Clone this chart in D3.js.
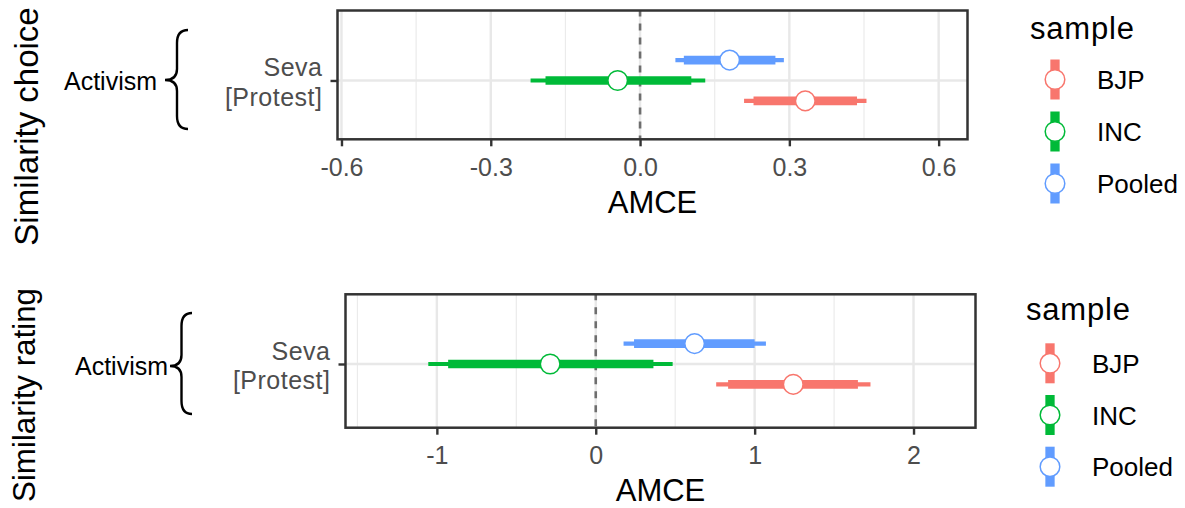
<!DOCTYPE html>
<html><head><meta charset="utf-8">
<script src="https://cdn.jsdelivr.net/npm/d3@7"></script>
<style>
body{margin:0;background:#fff}
svg{display:block}
text{font-family:"Liberation Sans",Arial,sans-serif}
</style>
</head><body>
<svg id="chart" width="1185" height="508"></svg>
<script>
// ---------------- data ----------------
const samples = ["BJP", "INC", "Pooled"];
const sampleColors = ["#F8766D", "#00BA38", "#619CFF"];
const attributeGroup = "Activism";
const levelLabel = ["Seva", "[Protest]"];
const outcomes = ["Similarity choice", "Similarity rating"];
const xTitle = "AMCE";
const legendTitle = "sample";

// Similarity choice (order: BJP, INC, Pooled)
const choiceEst  = [0.332, -0.045, 0.180];
const choiceLo95 = [0.209, -0.220, 0.071];
const choiceHi95 = [0.455,  0.131, 0.289];
const choiceLo90 = [0.228, -0.190, 0.088];
const choiceHi90 = [0.436,  0.103, 0.272];
const choiceTicks = [-0.6, -0.3, 0, 0.3, 0.6];
const choiceTickLabels = ["-0.6", "-0.3", "0.0", "0.3", "0.6"];
const choiceMinor = [-0.45, -0.15, 0.15, 0.45];

// Similarity rating
const ratingEst  = [1.243, -0.287, 0.622];
const ratingLo95 = [0.758, -1.054, 0.175];
const ratingHi95 = [1.729,  0.484, 1.071];
const ratingLo90 = [0.833, -0.929, 0.241];
const ratingHi90 = [1.650,  0.363, 1.000];
const ratingTicks = [-1, 0, 1, 2];
const ratingTickLabels = ["-1", "0", "1", "2"];
const ratingMinor = [-1.5, -0.5, 0.5, 1.5];

// ---------------- layout ----------------
const panels = [
  { outcome: outcomes[0], est: choiceEst, lo95: choiceLo95, hi95: choiceHi95, lo90: choiceLo90, hi90: choiceHi90,
    ticks: choiceTicks, tickLabels: choiceTickLabels, minor: choiceMinor,
    xDomain: [-0.608, 0.658], yDomain: [0.135, 2.029],
    left: 337.5, right: 967.5, top: 10.5, bottom: 139.3,
    titleX: 38, titleY: 126.5, titleSize: 33,
    grpX: 64, grpY: 90, brace: {xEnd: 188, xVert: 177, xTip: 165, yTop: 30, yTip: 80, yBot: 129},
    leg: {titleX: 1030, titleY: 39, keyX: 1055, y0: 79.5, dy: 52, labX: 1097} },
  { outcome: outcomes[1], est: ratingEst, lo95: ratingLo95, hi95: ratingHi95, lo90: ratingLo90, hi90: ratingHi90,
    ticks: ratingTicks, tickLabels: ratingTickLabels, minor: ratingMinor,
    xDomain: [-1.575, 2.39], yDomain: [0.063, 2.025],
    left: 345.5, right: 975.5, top: 294.3, bottom: 427.7,
    titleX: 35, titleY: 395, titleSize: 31.3,
    grpX: 75, grpY: 375, brace: {xEnd: 192, xVert: 181.5, xTip: 170, yTop: 313, yTip: 366, yBot: 414},
    leg: {titleX: 1026, titleY: 320, keyX: 1050, y0: 363.3, dy: 51.7, labX: 1092} }
];

const dodge = [-0.3, 0, 0.3];
const svg = d3.select("#chart");

panels.forEach(p => {
  const x = d3.scaleLinear().domain(p.xDomain).range([p.left, p.right]);
  const y = d3.scaleLinear().domain(p.yDomain).range([p.bottom, p.top]);
  const g = svg.append("g");

  // grid
  g.selectAll(".minor").data(p.minor).join("line")
    .attr("x1", d => x(d)).attr("x2", d => x(d))
    .attr("y1", p.top).attr("y2", p.bottom)
    .attr("stroke", "#EBEBEB").attr("stroke-width", 1.2);
  g.selectAll(".major").data(p.ticks).join("line")
    .attr("x1", d => x(d)).attr("x2", d => x(d))
    .attr("y1", p.top).attr("y2", p.bottom)
    .attr("stroke", "#E8E8E8").attr("stroke-width", 2.4);
  g.append("line")
    .attr("x1", p.left).attr("x2", p.right)
    .attr("y1", y(1)).attr("y2", y(1))
    .attr("stroke", "#E8E8E8").attr("stroke-width", 2.4);

  // zero line
  g.append("line")
    .attr("x1", x(0)).attr("x2", x(0))
    .attr("y1", p.top).attr("y2", p.bottom)
    .attr("stroke", "#6E6E6E").attr("stroke-width", 2.6)
    .attr("stroke-dasharray", "7,7").attr("stroke-dashoffset", 1);

  const idx = samples.map((s, i) => i);
  // 95% thin
  g.selectAll(".thin").data(idx).join("line")
    .attr("x1", i => x(p.lo95[i])).attr("x2", i => x(p.hi95[i]))
    .attr("y1", i => y(1 + dodge[i])).attr("y2", i => y(1 + dodge[i]))
    .attr("stroke", i => sampleColors[i]).attr("stroke-width", 4.2);
  // 90% thick
  g.selectAll(".thick").data(idx).join("line")
    .attr("x1", i => x(p.lo90[i])).attr("x2", i => x(p.hi90[i]))
    .attr("y1", i => y(1 + dodge[i])).attr("y2", i => y(1 + dodge[i]))
    .attr("stroke", i => sampleColors[i]).attr("stroke-width", 8.6);
  // points
  g.selectAll(".pt").data(idx).join("circle")
    .attr("cx", i => x(p.est[i])).attr("cy", i => y(1 + dodge[i]))
    .attr("r", 9.8).attr("fill", "#fff")
    .attr("stroke", i => sampleColors[i]).attr("stroke-width", 1.5);

  // border
  g.append("rect")
    .attr("x", p.left).attr("y", p.top)
    .attr("width", p.right - p.left).attr("height", p.bottom - p.top)
    .attr("fill", "none").attr("stroke", "#333333").attr("stroke-width", 2.5);

  // x axis
  const ax = g.append("g").attr("transform", `translate(0,${p.bottom})`)
    .call(d3.axisBottom(x).tickValues(p.ticks).tickSize(7)
      .tickFormat((d, i) => p.tickLabels[i]));
  ax.select(".domain").remove();
  ax.selectAll(".tick line").attr("stroke", "#333333").attr("stroke-width", 2.4);
  ax.selectAll(".tick text")
    .attr("y", 36.5).attr("dy", null)
    .attr("fill", "#4D4D4D").style("font-size", "25px")
    .style("font-family", '"Liberation Sans",Arial,sans-serif');

  // y axis
  const ay = g.append("g").attr("transform", `translate(${p.left},0)`)
    .call(d3.axisLeft(y).tickValues([1]).tickSize(7).tickFormat(""));
  ay.select(".domain").remove();
  ay.selectAll(".tick line").attr("stroke", "#333333").attr("stroke-width", 2.4);
  const yl = g.append("text")
    .attr("text-anchor", "end").attr("fill", "#4D4D4D")
    .style("font-size", "25px").style("letter-spacing", "0.5px");
  yl.append("tspan").attr("x", p.left - 15).attr("y", y(1) - 4).text(levelLabel[0]);
  yl.append("tspan").attr("x", p.left - 15).attr("y", y(1) + 25.5).text(levelLabel[1]);

  // x title
  g.append("text").attr("x", (p.left + p.right) / 2).attr("y", p.bottom + 73.5)
    .attr("text-anchor", "middle").attr("fill", "#000")
    .style("font-size", "31px").text(xTitle);

  // outcome title (rotated)
  g.append("text").attr("transform", `translate(${p.titleX},${p.titleY}) rotate(-90)`)
    .attr("text-anchor", "middle").attr("fill", "#000")
    .style("font-size", p.titleSize + "px").text(p.outcome);

  // group label + brace
  g.append("text").attr("x", p.grpX).attr("y", p.grpY).attr("fill", "#000")
    .style("font-size", "25px").text(attributeGroup);
  const b = p.brace;
  g.append("path")
    .attr("d", `M${b.xEnd},${b.yTop} Q${b.xVert},${b.yTop} ${b.xVert},${b.yTop + 13}
                L${b.xVert},${b.yTip - 11} Q${b.xVert},${b.yTip} ${b.xTip},${b.yTip}
                Q${b.xVert},${b.yTip} ${b.xVert},${b.yTip + 11}
                L${b.xVert},${b.yBot - 13} Q${b.xVert},${b.yBot} ${b.xEnd},${b.yBot}`)
    .attr("fill", "none").attr("stroke", "#000").attr("stroke-width", 2.4);

  // legend
  const L = p.leg;
  g.append("text").attr("x", L.titleX).attr("y", L.titleY).attr("fill", "#000")
    .style("font-size", "31px").style("letter-spacing", "0.8px").text(legendTitle);
  const keys = g.selectAll(".key").data(idx).join("g")
    .attr("transform", i => `translate(${L.keyX},${L.y0 + i * L.dy})`);
  keys.append("line").attr("x1", 0).attr("x2", 0).attr("y1", -20).attr("y2", 20)
    .attr("stroke", i => sampleColors[i]).attr("stroke-width", 9.3);
  keys.append("circle").attr("r", 9.8).attr("fill", "#fff")
    .attr("stroke", i => sampleColors[i]).attr("stroke-width", 1.5);
  keys.append("text").attr("x", L.labX - L.keyX).attr("y", 9.5).attr("fill", "#000")
    .style("font-size", "26px").text(i => samples[i]);
});
</script>
</body></html>
